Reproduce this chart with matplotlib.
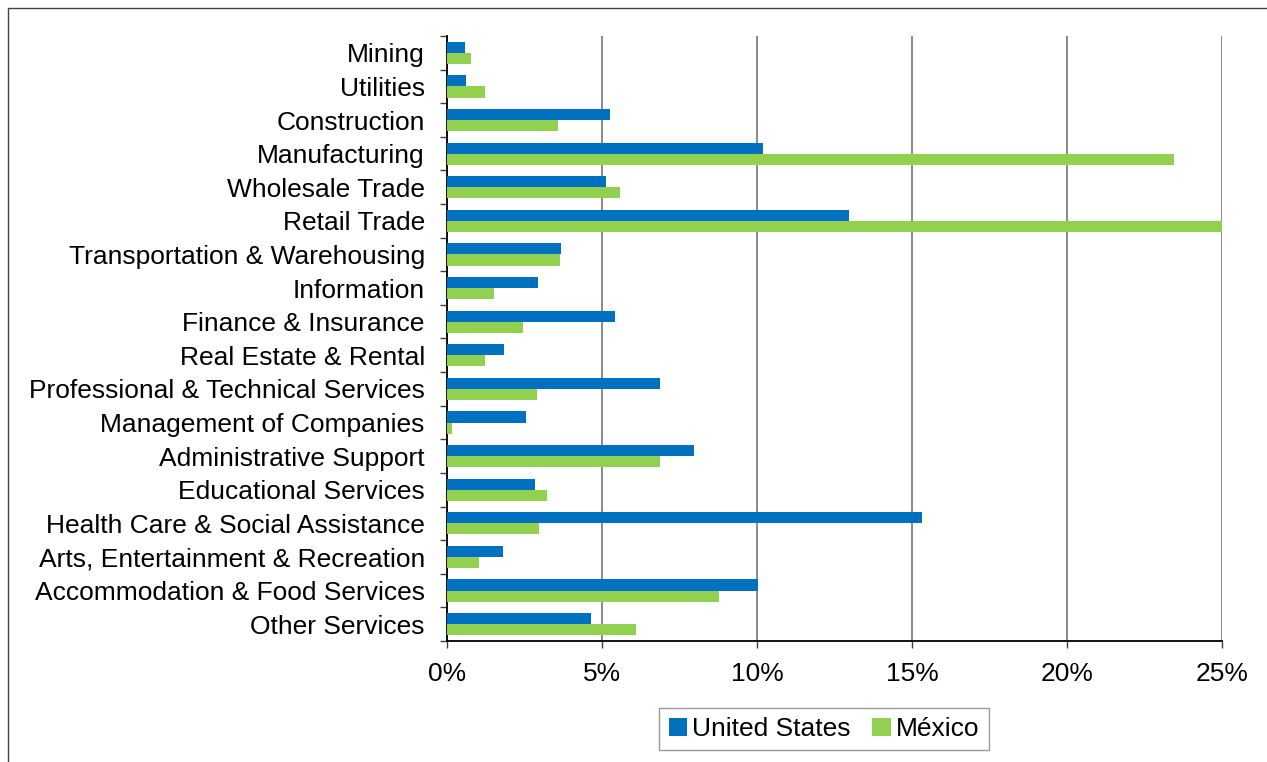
import numpy as np
import matplotlib
matplotlib.use('Agg')
import matplotlib.pyplot as plt
from matplotlib.patches import Rectangle
from matplotlib.ticker import FuncFormatter, MultipleLocator

plt.rcParams['font.family'] = ['Liberation Sans', 'DejaVu Sans']

# share of employment by industry (%)
industries = ['Mining', 'Utilities', 'Construction', 'Manufacturing',
              'Wholesale Trade', 'Retail Trade', 'Transportation & Warehousing',
              'Information', 'Finance & Insurance', 'Real Estate & Rental',
              'Professional & Technical Services', 'Management of Companies',
              'Administrative Support', 'Educational Services',
              'Health Care & Social Assistance', 'Arts, Entertainment & Recreation',
              'Accommodation & Food Services', 'Other Services']
us = [0.57, 0.61, 5.26, 10.19, 5.13, 12.98, 3.68, 2.92, 5.43, 1.83,
      6.88, 2.54, 7.96, 2.84, 15.31, 1.80, 10.03, 4.65]
mexico = [0.76, 1.24, 3.57, 23.44, 5.59, 25.1, 3.65, 1.52, 2.45, 1.22,
          2.89, 0.17, 6.88, 3.21, 2.97, 1.03, 8.76, 6.11]

blue = '#0070C0'
green = '#92D050'

fig = plt.figure(figsize=(12.67, 7.62), dpi=100)
ax = fig.add_axes([447/1267, 1-641/762, 775/1267, 605/762])

y = np.arange(len(industries))
h = 0.33
ax.barh(y - h/2, us, height=h, color=blue, label='United States', zorder=3)
ax.barh(y + h/2, mexico, height=h, color=green, label='México', zorder=3)

ax.set_xlim(0, 25)
ax.set_ylim(len(industries) - 0.5, -0.5)
ax.xaxis.set_major_locator(MultipleLocator(5))
ax.xaxis.set_major_formatter(FuncFormatter(lambda v, p: '%d%%' % v))
ax.grid(axis='x', color='#808080', linewidth=1.3, zorder=0)

ax.set_yticks(y)
ax.set_yticklabels(industries)
ax.set_yticks(np.arange(len(industries) + 1) - 0.5, minor=True)
ax.tick_params(axis='y', which='major', length=0, pad=16, labelsize=19)
ax.tick_params(axis='y', which='minor', length=5, width=1, color='#404040')
ax.tick_params(axis='x', length=5, width=1, color='#404040', pad=10, labelsize=19)

for s in ['top', 'right']:
    ax.spines[s].set_visible(False)
ax.spines['left'].set_color('black')
ax.spines['bottom'].set_color('black')
ax.spines['left'].set_linewidth(1.3)
ax.spines['bottom'].set_linewidth(1.3)
for lbl in ax.get_xticklabels() + ax.get_yticklabels():
    lbl.set_clip_on(False)

leg = fig.legend(loc='center', bbox_to_anchor=(824/1267, 1-729/762), ncol=2,
                 fontsize=19, frameon=True, fancybox=False, edgecolor='#808080',
                 handlelength=0.7, handleheight=0.7, handletextpad=0.2,
                 columnspacing=0.8, borderpad=0.35)
leg.get_frame().set_linewidth(1)

# outer chart frame
fig.patches.append(Rectangle((8/1267, -0.5), 2, 1 - 8/762 + 0.5,
                             transform=fig.transFigure, fill=False,
                             edgecolor='#404040', linewidth=1))

fig.savefig('out.png', dpi=100)
